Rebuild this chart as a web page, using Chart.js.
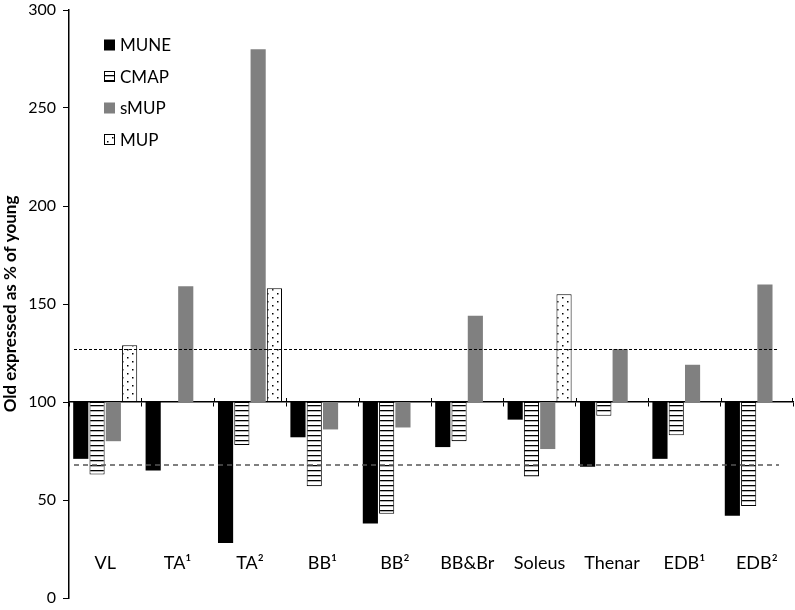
<!DOCTYPE html>
<html>
<head>
<meta charset="utf-8">
<script src="https://cdn.jsdelivr.net/npm/chart.js@4/dist/chart.umd.min.js"></script>
<style>
  body { margin: 0; background: #fff; }
  #wrap { width: 795px; height: 610px; }
</style>
</head>
<body>
<div id="wrap"><canvas id="myChart"></canvas></div>
<script>
// data (old as % of young, bars hang from 100)
const categories = ['VL', 'TA¹', 'TA²', 'BB¹', 'BB²', 'BB&Br', 'Soleus', 'Thenar', 'EDB¹', 'EDB²'];
const mune = [71, 65, 28, 82, 38, 77, 91, 67, 71, 42];
const cmap = [63, null, 78, 57, 43, 80, 62, 93, 83, 47];
const smup = [80, 159, 280, 86, 87, 144, 76, 127, 119, 160];
const mup  = [129, null, 158, null, null, null, 155, null, null, null];
const yTicks = [0, 50, 100, 150, 200, 250, 300];
const baseLine = 100;
const upperRef = 127.2;
const lowerRef = 67.8;

const FONT = 'Lato, "Open Sans", sans-serif';
const ctx = document.getElementById('myChart').getContext('2d');

function stripePattern() {
  const c = document.createElement('canvas');
  c.width = 4; c.height = 5;
  const g = c.getContext('2d');
  g.fillStyle = '#fff'; g.fillRect(0, 0, 4, 5);
  g.fillStyle = '#000'; g.fillRect(0, 0, 4, 1.3);
  return ctx.createPattern(c, 'repeat');
}
function dotPattern() {
  const c = document.createElement('canvas');
  c.width = 10; c.height = 8;
  const g = c.getContext('2d');
  g.fillStyle = '#fff'; g.fillRect(0, 0, 10, 8);
  g.fillStyle = '#000';
  g.fillRect(2, 1, 1.5, 1.5);
  g.fillRect(7, 5, 1.5, 1.5);
  return ctx.createPattern(c, 'repeat');
}
const stripes = stripePattern();
const dots = dotPattern();

function hang(arr) {
  return arr.map(v => v == null ? null : [baseLine, v]);
}

const series = [
  { label: 'MUNE', data: hang(mune), backgroundColor: '#000', borderColor: '#000', borderWidth: 0 },
  { label: 'CMAP', data: hang(cmap), backgroundColor: stripes, borderColor: '#000', borderWidth: 1 },
  { label: 'sMUP', data: hang(smup), backgroundColor: '#808080', borderColor: '#808080', borderWidth: 0 },
  { label: 'MUP',  data: hang(mup),  backgroundColor: dots, borderColor: '#000', borderWidth: 1 }
];

// reference lines, short ticks across the 100 line, legend
const extras = {
  id: 'extras',
  afterDatasetsDraw(chart) {
    const c = chart.ctx;
    const x = chart.scales.x;
    const y = chart.scales.y;
    const area = chart.chartArea;
    c.save();
    c.strokeStyle = '#000';
    c.lineWidth = 1;
    c.setLineDash([3, 2]);
    let py = Math.round(y.getPixelForValue(upperRef)) + 0.5;
    c.beginPath(); c.moveTo(area.left + 5, py); c.lineTo(area.right - 14, py); c.stroke();
    c.strokeStyle = '#555';
    c.lineWidth = 1.5;
    c.setLineDash([5, 4]);
    py = y.getPixelForValue(lowerRef);
    c.beginPath(); c.moveTo(area.left + 5, py); c.lineTo(area.right - 14, py); c.stroke();
    c.setLineDash([]);

    // tick marks poke a little above the axis too
    const by = y.getPixelForValue(baseLine);
    c.strokeStyle = '#000'; c.lineWidth = 1;
    for (let i = 1; i <= categories.length; i++) {
      const px = Math.round((x.getPixelForValue(i - 1) + x.getPixelForValue(i)) / 2) + 0.5;
      const edge = i === categories.length ? area.right - 0.5 : px;
      c.beginPath(); c.moveTo(edge, by - 4); c.lineTo(edge, by); c.stroke();
    }

    // legend
    const lx = area.left + 35, ly0 = area.top + 35, step = 31.5, sz = 11;
    c.font = '17px ' + FONT;
    c.textBaseline = 'middle';
    series.forEach((s, i) => {
      const yy = ly0 + i * step;
      c.fillStyle = s.backgroundColor;
      c.fillRect(lx, yy - sz / 2, sz, sz);
      if (s.borderWidth) {
        c.strokeStyle = '#000'; c.lineWidth = 1;
        c.strokeRect(lx + 0.5, yy - sz / 2 + 0.5, sz - 1, sz - 1);
      }
      c.fillStyle = '#000';
      c.fillText(s.label, lx + 16, yy + 1);
    });
    c.restore();
  }
};

new Chart(ctx, {
  type: 'bar',
  data: { labels: categories, datasets: series },
  options: {
    responsive: true,
    maintainAspectRatio: false,
    animation: false,
    layout: { padding: { top: 10, right: 2, bottom: 12, left: 0 } },
    datasets: { bar: { categoryPercentage: 0.9, barPercentage: 0.93, borderSkipped: false } },
    plugins: { legend: { display: false }, tooltip: { enabled: false } },
    scales: {
      x: {
        position: { y: baseLine },
        grid: { offset: true, drawOnChartArea: false, color: '#000', tickLength: 4 },
        border: { display: true, color: '#000', width: 1.5 },
        ticks: { padding: 146, color: '#000', font: { family: FONT, size: 18 }, maxRotation: 0 },
        afterFit(s) { s.height = 0; s.paddingLeft = 0; s.paddingRight = 0; }
      },
      y: {
        min: 0, max: 300,
        afterBuildTicks(s) { s.ticks = yTicks.map(v => ({ value: v })); },
        grid: { drawOnChartArea: false, color: '#000', tickLength: 6 },
        border: { display: true, color: '#000', width: 1.5 },
        ticks: { padding: 7, color: '#000', font: { family: FONT, size: 16 } },
        title: { display: true, text: 'Old expressed as % of young', color: '#000',
                 font: { family: FONT, size: 17, weight: 'bold' }, padding: 0 },
        afterFit(s) { s.width = 69; s.paddingTop = 0; s.paddingBottom = 0; }
      }
    }
  },
  plugins: [extras]
});
</script>
</body>
</html>
